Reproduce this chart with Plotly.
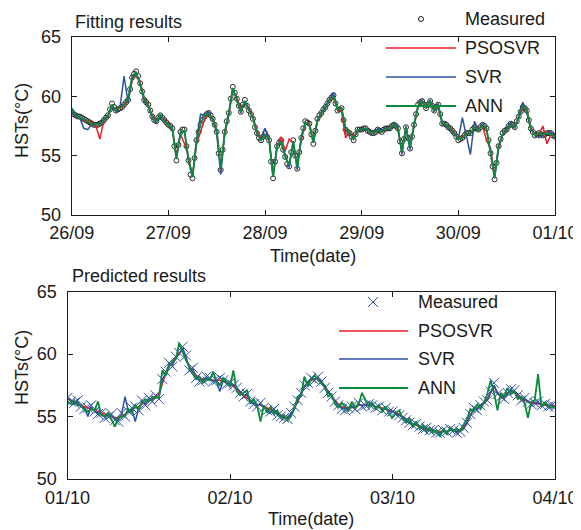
import plotly.graph_objects as go
import pandas as pd

# ---------------- data ----------------
fit_start = "2013-09-26 00:00"
fit_meas_steps = 241     # half-hourly measured samples 26/09 00:00 .. 01/10 00:00
fit_model_steps = 121    # hourly model outputs 26/09 00:00 .. 01/10 00:00
pred_start = "2013-10-01 00:00"
pred_steps = 145         # half-hourly samples 01/10 00:00 .. 04/10 00:00

fit_measured = [
    58.7, 58.5, 58.4, 58.3, 58.3, 58.2, 58.1, 58.0, 57.9, 57.8,
    57.7, 57.6, 57.6, 57.6, 57.7, 57.8, 58.0, 58.2, 58.4, 58.9,
    59.4, 59.1, 58.8, 58.9, 59.0, 59.1, 59.3, 59.5, 59.7, 60.6,
    61.6, 61.9, 62.1, 61.7, 61.1, 60.4, 59.7, 59.5, 59.3, 58.8,
    58.3, 58.0, 57.9, 58.2, 58.4, 58.2, 58.0, 57.8, 57.6, 57.5,
    57.3, 55.8, 54.6, 55.9, 57.0, 57.2, 57.2, 55.8, 54.6, 53.4,
    53.1, 54.8, 56.3, 57.0, 57.6, 58.0, 58.3, 58.5, 58.6, 58.4,
    58.1, 57.6, 57.0, 55.2, 53.8, 55.5, 57.0, 57.9, 58.6, 59.8,
    60.8, 60.3, 59.8, 59.2, 58.7, 59.3, 59.7, 59.2, 58.8, 58.5,
    58.1, 57.4, 56.9, 56.5, 56.3, 56.6, 56.9, 56.6, 56.3, 54.5,
    53.1, 54.5, 55.8, 56.1, 56.3, 55.5, 54.9, 54.3, 54.1, 55.3,
    56.3, 55.0, 53.9, 55.3, 56.5, 57.3, 57.9, 57.8, 57.7, 56.8,
    56.0, 57.1, 58.1, 58.4, 58.6, 58.9, 59.1, 59.4, 59.7, 59.9,
    60.1, 59.4, 58.8, 58.9, 59.0, 58.0, 57.2, 57.0, 56.9, 56.6,
    56.3, 56.8, 57.2, 57.2, 57.2, 57.3, 57.3, 57.1, 57.0, 56.9,
    56.9, 57.0, 57.2, 57.1, 57.0, 57.2, 57.3, 57.3, 57.3, 57.5,
    57.6, 57.5, 57.3, 56.2, 55.2, 56.4, 57.4, 56.5, 55.6, 56.6,
    57.6, 58.5, 59.3, 59.5, 59.6, 59.3, 59.0, 59.3, 59.6, 59.2,
    58.8, 59.1, 59.3, 58.5, 57.7, 57.7, 57.6, 57.4, 57.3, 57.1,
    56.9, 56.6, 56.3, 56.4, 56.5, 56.7, 56.9, 56.9, 56.9, 57.2,
    57.4, 57.3, 57.2, 57.4, 57.6, 57.5, 57.3, 56.3, 55.2, 54.1,
    53.0, 54.4, 55.8, 56.4, 56.9, 57.1, 57.2, 57.5, 57.7, 57.6,
    57.4, 57.9, 58.3, 58.7, 59.1, 59.0, 58.8, 58.0, 57.3, 57.0,
    56.7, 56.8, 56.9, 56.8, 56.7, 56.8, 56.9, 56.9, 56.9, 56.7,
    56.6]

fit_psosvr = [
    58.6, 58.3, 58.2, 58.0, 57.9, 57.8, 57.5, 56.4, 58.0, 58.3,
    59.2, 58.9, 59.0, 59.2, 59.6, 61.3, 61.9, 61.2, 59.9, 59.3,
    58.4, 58.0, 58.3, 58.1, 57.7, 57.2, 55.0, 56.8, 56.0, 54.9,
    53.3, 56.0, 57.0, 58.1, 58.5, 58.2, 57.2, 54.0, 56.8, 58.4,
    60.6, 59.9, 58.9, 59.5, 59.0, 58.3, 57.1, 56.5, 56.7, 56.5,
    53.3, 55.7, 56.6, 55.4, 56.4, 56.1, 54.2, 56.3, 57.7, 57.8,
    56.2, 57.9, 58.5, 59.0, 59.6, 59.9, 58.9, 58.7, 56.5, 57.0,
    56.6, 57.1, 57.2, 57.3, 57.1, 57.0, 57.1, 57.1, 57.2, 57.4,
    57.5, 57.2, 55.4, 57.3, 55.8, 57.5, 59.1, 59.5, 59.1, 59.5,
    58.9, 59.1, 57.8, 57.5, 57.4, 57.0, 56.5, 56.6, 56.8, 56.9,
    57.3, 57.3, 57.5, 56.3, 55.6, 53.3, 55.6, 56.8, 57.1, 57.6,
    57.5, 58.2, 59.0, 58.9, 57.4, 56.8, 56.8, 57.5, 56.0, 56.8,
    56.7]

fit_svr = [
    58.7, 58.3, 58.2, 57.3, 57.2, 57.7, 57.7, 57.6, 58.0, 58.4,
    59.2, 58.7, 59.1, 61.7, 59.5, 61.5, 62.0, 61.0, 59.6, 59.2,
    58.2, 57.8, 58.3, 58.0, 57.6, 57.2, 54.8, 56.9, 57.1, 54.5,
    53.2, 56.4, 58.5, 58.4, 58.7, 58.0, 56.9, 53.4, 56.9, 58.5,
    60.7, 59.7, 58.6, 59.6, 58.9, 58.2, 56.8, 56.4, 57.3, 56.4,
    53.2, 55.9, 56.2, 55.0, 54.0, 56.2, 53.8, 56.6, 57.8, 57.6,
    56.1, 58.0, 58.7, 59.2, 59.8, 60.3, 58.9, 59.0, 57.3, 56.8,
    56.4, 57.1, 57.3, 57.2, 57.1, 56.9, 57.3, 57.1, 57.4, 57.2,
    57.7, 57.4, 55.1, 57.5, 55.5, 57.7, 59.2, 59.7, 59.0, 59.7,
    58.7, 59.4, 57.8, 57.5, 57.2, 56.8, 56.4, 58.2, 56.6, 55.1,
    57.9, 57.1, 57.7, 57.2, 55.3, 53.1, 55.9, 56.8, 57.3, 57.8,
    57.3, 58.4, 59.5, 58.6, 57.2, 56.8, 56.5, 56.8, 56.8, 57.0,
    56.6]

fit_ann = [
    59.0, 58.4, 58.2, 58.1, 57.9, 57.6, 57.7, 57.6, 58.1, 58.3,
    59.3, 58.8, 59.1, 59.3, 59.8, 61.7, 62.0, 61.0, 59.8, 59.2,
    58.3, 57.9, 58.5, 57.9, 57.6, 57.3, 54.7, 57.0, 57.1, 54.7,
    53.2, 56.2, 57.7, 58.4, 58.5, 58.1, 57.1, 53.9, 57.0, 58.6,
    60.7, 59.7, 58.7, 59.6, 58.8, 58.2, 56.9, 56.3, 56.8, 56.4,
    53.2, 55.8, 56.2, 54.9, 54.2, 56.2, 54.0, 56.5, 57.8, 57.6,
    56.1, 58.0, 58.6, 59.0, 59.7, 60.0, 58.9, 59.0, 57.3, 56.9,
    56.4, 57.2, 57.2, 57.3, 57.0, 56.9, 57.2, 57.0, 57.3, 57.3,
    57.6, 57.3, 55.3, 57.4, 55.7, 57.6, 59.2, 59.6, 59.0, 59.6,
    58.8, 59.2, 57.7, 57.6, 57.3, 56.9, 56.4, 56.5, 56.8, 56.9,
    57.4, 57.1, 57.6, 57.3, 55.3, 53.1, 55.8, 56.8, 57.2, 57.6,
    57.4, 58.2, 59.2, 58.8, 57.3, 56.7, 56.9, 56.8, 56.9, 56.8,
    56.6]

pred_measured = [
    56.5, 56.2, 56.1, 56.3, 55.8, 55.6, 55.7, 55.9, 55.4, 55.2,
    55.3, 54.9, 55.0, 55.2, 54.7, 54.6, 55.3, 55.0, 55.4, 55.7,
    55.8, 55.5, 56.3, 55.9, 56.5, 56.2, 56.7, 56.4, 58.0, 58.6,
    59.3, 59.0, 59.8, 60.1, 60.6, 59.9, 58.7, 58.9, 58.1, 57.8,
    57.9, 58.2, 58.1, 57.8, 57.9, 58.1, 57.9, 57.6, 57.7, 57.5,
    57.3, 56.9, 56.6, 56.8, 56.2, 56.0, 55.8, 56.1, 55.7, 55.5,
    55.4, 55.6, 55.1, 55.0, 54.9, 54.8, 55.3, 55.8, 56.3, 56.9,
    57.5, 57.7, 58.1, 57.9, 58.2, 57.8, 57.3, 56.9, 56.6, 56.2,
    55.9, 55.6, 55.5, 55.7, 55.8, 55.6, 56.1, 55.8, 55.9, 56.0,
    55.9, 55.7, 55.8, 55.5, 55.7, 55.4, 55.4, 55.2, 55.1, 54.9,
    54.7, 54.5, 54.3, 54.4, 54.2, 54.0, 54.1, 53.9, 53.9, 53.7,
    53.7, 53.9, 53.8, 54.0, 53.9, 53.7, 53.8, 54.1, 54.5, 55.2,
    55.7, 55.5, 55.9, 56.2, 56.3, 57.0, 57.7, 56.8, 56.6, 56.4,
    56.9, 57.2, 57.1, 56.7, 56.3, 56.5, 56.2, 56.0, 56.1, 56.2,
    55.9, 56.0, 55.8, 55.9, 55.8]

pred_psosvr = [
    56.4, 56.3, 56.1, 56.0, 55.9, 55.8, 55.7, 55.6, 55.5, 55.4,
    55.3, 55.2, 55.1, 55.0, 54.9, 54.9, 55.0, 55.2, 55.4, 55.5,
    55.7, 55.8, 56.0, 56.1, 56.3, 56.4, 56.6, 56.8, 57.6, 58.4,
    59.0, 59.4, 59.8, 60.1, 60.3, 59.7, 59.0, 58.6, 58.3, 58.1,
    58.0, 58.0, 58.0, 57.9, 57.9, 57.9, 57.8, 57.7, 57.6, 57.4,
    57.2, 56.9, 56.7, 56.5, 56.3, 56.1, 56.0, 55.9, 55.8, 55.7,
    55.6, 55.4, 55.3, 55.1, 55.0, 54.9, 55.1, 55.6, 56.2, 56.8,
    57.4, 57.7, 57.9, 58.0, 58.0, 57.8, 57.4, 57.0, 56.6, 56.3,
    56.0, 55.8, 55.7, 55.7, 55.7, 55.8, 55.9, 55.9, 55.9, 55.9,
    55.9, 55.8, 55.7, 55.7, 55.6, 55.5, 55.4, 55.3, 55.2, 55.0,
    54.8, 54.6, 54.4, 54.3, 54.2, 54.1, 54.0, 53.9, 53.9, 53.8,
    53.8, 53.8, 53.8, 53.9, 53.9, 53.8, 53.9, 54.1, 54.5, 55.1,
    55.6, 55.7, 55.9, 56.1, 56.3, 56.9, 57.4, 56.9, 56.6, 56.6,
    56.9, 57.0, 56.9, 56.6, 56.4, 56.3, 56.2, 56.1, 56.1, 56.0,
    56.0, 55.9, 55.9, 55.9, 55.8]

pred_svr = [
    56.5, 56.3, 56.0, 56.2, 55.8, 55.7, 55.0, 55.8, 55.4, 55.3,
    55.2, 55.0, 55.1, 55.1, 54.8, 54.7, 55.2, 56.6, 55.4, 55.6,
    54.6, 55.6, 56.2, 56.0, 56.4, 56.3, 56.6, 56.5, 57.9, 58.5,
    59.2, 59.1, 59.7, 60.0, 60.5, 59.8, 58.8, 58.8, 58.2, 57.9,
    57.9, 58.1, 58.0, 57.9, 57.8, 57.0, 57.9, 57.7, 57.6, 57.5,
    57.3, 57.0, 56.7, 56.7, 56.3, 56.1, 55.9, 56.0, 55.7, 55.6,
    55.4, 55.5, 55.2, 55.0, 54.9, 54.9, 55.2, 55.7, 56.3, 56.8,
    57.4, 57.7, 58.0, 58.0, 58.1, 57.8, 57.3, 57.0, 56.6, 56.3,
    55.9, 55.7, 55.6, 55.7, 55.8, 55.7, 56.0, 55.9, 55.9, 55.9,
    55.9, 55.8, 55.8, 55.6, 55.6, 55.5, 55.4, 55.2, 55.1, 55.0,
    54.8, 54.5, 54.4, 54.4, 54.2, 54.1, 54.1, 53.9, 53.9, 53.8,
    53.7, 53.8, 53.8, 53.9, 53.9, 53.8, 53.8, 54.0, 54.5, 55.1,
    55.6, 55.6, 55.9, 56.1, 56.4, 57.0, 57.5, 56.9, 56.6, 56.5,
    56.8, 57.1, 57.0, 56.8, 56.4, 56.4, 56.2, 56.0, 56.1, 56.1,
    55.9, 56.0, 55.8, 55.9, 55.8]

pred_ann = [
    56.2, 56.0, 56.3, 55.9, 55.9, 55.5, 55.4, 55.6, 55.5, 56.2,
    55.1, 55.0, 55.3, 54.8, 54.2, 54.9, 55.0, 55.1, 55.6, 55.3,
    55.9, 55.6, 56.1, 56.4, 56.2, 56.6, 56.5, 56.5, 58.7, 58.3,
    59.1, 59.4, 59.6, 60.9, 60.2, 59.5, 59.0, 58.4, 58.0, 58.2,
    57.7, 58.0, 57.9, 58.6, 57.8, 57.5, 58.1, 57.8, 57.4, 58.7,
    57.0, 56.7, 56.9, 57.1, 56.0, 56.4, 55.9, 54.6, 55.9, 55.3,
    55.8, 55.2, 55.5, 54.9, 55.1, 54.7, 55.0, 55.6, 56.6, 56.7,
    58.2, 57.4, 58.0, 58.3, 57.9, 57.7, 57.5, 56.6, 56.8, 56.0,
    55.7, 56.1, 55.8, 55.4, 56.2, 55.7, 56.0, 56.9, 56.3, 55.8,
    56.1, 55.6, 55.9, 55.4, 55.8, 55.2, 54.9, 55.3, 55.5, 54.8,
    54.5, 54.9, 54.2, 54.6, 54.0, 54.3, 53.8, 54.1, 53.7, 53.9,
    53.4, 54.0, 53.6, 54.1, 53.8, 54.0, 53.9, 54.4, 54.8, 55.6,
    55.4, 56.0, 55.6, 56.1, 56.8, 57.9, 56.9, 55.5, 56.9, 56.6,
    57.3, 56.8, 57.0, 56.4, 56.6, 56.1, 54.9, 56.2, 56.3, 58.4,
    55.8, 56.1, 55.9, 55.7, 55.8]

series_names = ["Measured", "PSOSVR", "SVR", "ANN"]
y_ticks = [50, 55, 60, 65]

# ---------------- styling ----------------
PAGE_OFF = 8                 # default body margin of the page
W, H = 581 - PAGE_OFF, 530 - PAGE_OFF
FONT = "Liberation Sans, Arial, sans-serif"
TXT = "#1a1a1a"
RED = "#ee1c25"
BLUE = "#2e4fa6"
GREEN = "#0b8a3e"
BLACK = "#1a1a1a"


def fx(p):
    return (p - PAGE_OFF) / W


def fy(p):
    return 1 - (p - PAGE_OFF) / H


t_fit_meas = pd.date_range(fit_start, periods=fit_meas_steps, freq="30min")
t_fit = pd.date_range(fit_start, periods=fit_model_steps, freq="h")
t_pred = pd.date_range(pred_start, periods=pred_steps, freq="30min")

fig = go.Figure()

# top panel
fig.add_trace(go.Scatter(x=t_fit_meas, y=fit_measured, mode="markers", name=series_names[0],
                         marker=dict(symbol="circle-open", size=5, color="#2a2a2a", line=dict(width=1)),
                         xaxis="x", yaxis="y"))
fig.add_trace(go.Scatter(x=t_fit, y=fit_psosvr, mode="lines", name=series_names[1],
                         line=dict(color=RED, width=1.5), xaxis="x", yaxis="y"))
fig.add_trace(go.Scatter(x=t_fit, y=fit_svr, mode="lines", name=series_names[2],
                         line=dict(color=BLUE, width=1.5), xaxis="x", yaxis="y"))
fig.add_trace(go.Scatter(x=t_fit, y=fit_ann, mode="lines", name=series_names[3],
                         line=dict(color=GREEN, width=1.8), xaxis="x", yaxis="y"))

# bottom panel
fig.add_trace(go.Scatter(x=t_pred, y=pred_measured, mode="markers", name=series_names[0],
                         marker=dict(symbol="x-thin-open", size=10, color=BLUE, line=dict(width=1, color=BLUE)),
                         xaxis="x2", yaxis="y2"))
fig.add_trace(go.Scatter(x=t_pred, y=pred_psosvr, mode="lines", name=series_names[1],
                         line=dict(color=RED, width=1.5), xaxis="x2", yaxis="y2"))
fig.add_trace(go.Scatter(x=t_pred, y=pred_svr, mode="lines", name=series_names[2],
                         line=dict(color=BLUE, width=1.5), xaxis="x2", yaxis="y2"))
fig.add_trace(go.Scatter(x=t_pred, y=pred_ann, mode="lines", name=series_names[3],
                         line=dict(color=GREEN, width=1.8), xaxis="x2", yaxis="y2"))

axis_common = dict(showline=True, linecolor=BLACK, linewidth=1, mirror="allticks",
                   ticks="inside", ticklen=5, tickcolor=BLACK, showgrid=False, zeroline=False,
                   tickfont=dict(family=FONT, size=18, color=TXT), automargin=False)

fig.update_layout(
    width=W, height=H, margin=dict(l=0, r=0, t=0, b=0),
    paper_bgcolor="white", plot_bgcolor="white", showlegend=False,
    font=dict(family=FONT, size=18, color=TXT),
    xaxis=dict(domain=[fx(71.7), fx(555)], anchor="y", type="date",
               range=[t_fit[0], t_fit[-1]], dtick=86400000, tick0=t_fit[0],
               tickformat="%d/%m", ticklabelstandoff=1, **axis_common),
    yaxis=dict(domain=[fy(215), fy(37)], anchor="x", range=[50, 65], tickvals=y_ticks,
               ticklabelstandoff=6, **axis_common),
    xaxis2=dict(domain=[fx(67.5), fx(555)], anchor="y2", type="date",
                range=[t_pred[0], t_pred[-1]], dtick=86400000, tick0=t_pred[0],
                tickformat="%d/%m", ticklabelstandoff=2, **axis_common),
    yaxis2=dict(domain=[fy(479), fy(291.7)], anchor="x2", range=[50, 65], tickvals=y_ticks,
                ticklabelstandoff=6, **axis_common),
)

ann = []
shapes = []


def text(x, y, s, anchor="left", angle=0):
    ann.append(dict(x=fx(x), y=fy(y), xref="paper", yref="paper", text=s, showarrow=False,
                    xanchor=anchor, yanchor="middle", textangle=angle,
                    font=dict(family=FONT, size=18, color=TXT)))


def hline(x0, x1, y, color, w=1.5):
    shapes.append(dict(type="line", xref="paper", yref="paper", x0=fx(x0), x1=fx(x1),
                       y0=fy(y), y1=fy(y), line=dict(color=color, width=w)))


# titles and axis labels
text(73, 22, "Fitting results")
text(70, 276, "Predicted results")
text(22, 121, "HSTs(°C)", anchor="center", angle=-90)
text(22, 368, "HSTs(°C)", anchor="center", angle=-90)
text(313, 256, "Time(date)", anchor="center")
text(311, 519, "Time(date)", anchor="center")

# top legend
shapes.append(dict(type="circle", xref="paper", yref="paper", x0=fx(418.5), x1=fx(423.5),
                   y0=fy(21.5), y1=fy(16.5), line=dict(color=BLACK, width=1)))
text(463, 19, series_names[0])
hline(386, 456, 48, RED)
text(463, 48, series_names[1])
hline(386, 456, 77, BLUE)
text(463, 77, series_names[2])
hline(386, 456, 106, GREEN, 1.8)
text(463, 106, series_names[3])

# bottom legend
for (a, b, c, d) in [(368, 297, 378, 307), (368, 307, 378, 297)]:
    shapes.append(dict(type="line", xref="paper", yref="paper", x0=fx(a), x1=fx(c),
                       y0=fy(b), y1=fy(d), line=dict(color=BLUE, width=1)))
text(416, 302, series_names[0])
hline(339, 408, 331, RED)
text(416, 331, series_names[1])
hline(339, 408, 359, BLUE)
text(416, 359, series_names[2])
hline(339, 408, 388, GREEN, 1.8)
text(416, 388, series_names[3])

fig.update_layout(annotations=ann, shapes=shapes)
fig.write_html("out.html")
